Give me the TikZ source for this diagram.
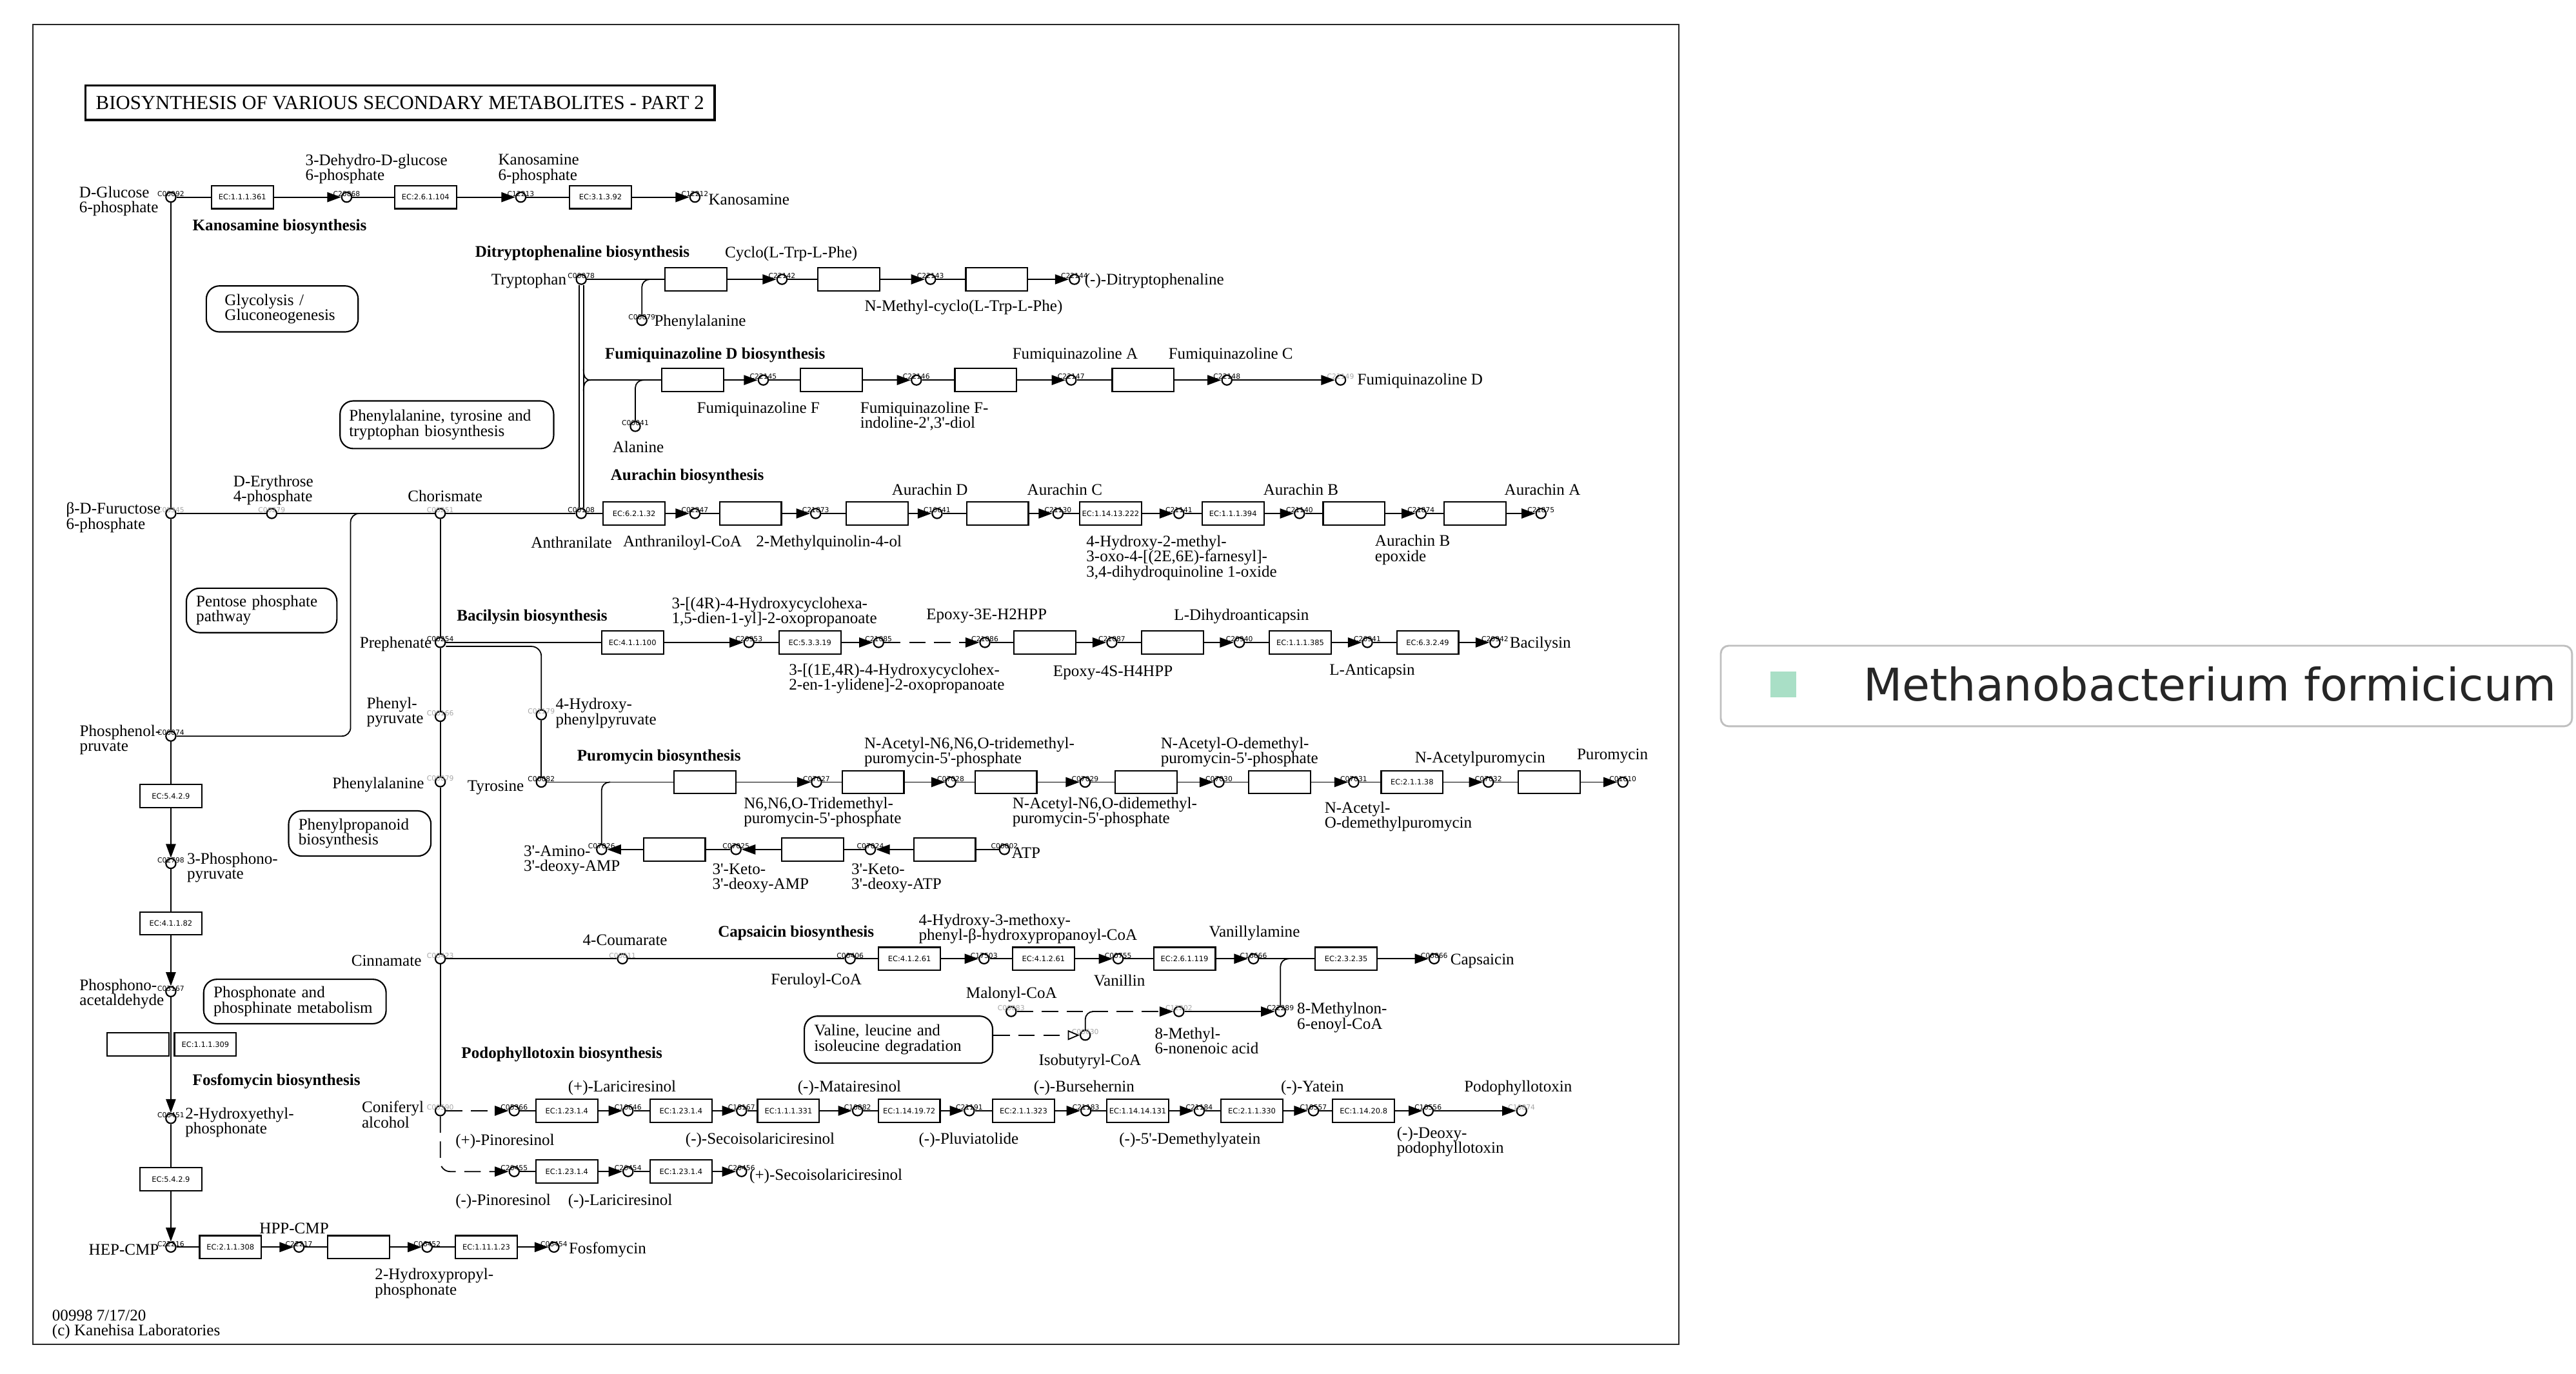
\documentclass[tikz,border=0pt]{standalone}
\usepackage{fontspec}
\setmainfont{Liberation Serif}
\setsansfont{DejaVu Sans}
\newfontfamily\legfam{DejaVu Sans}
\usetikzlibrary{arrows.meta}
\definecolor{mint}{HTML}{A9DFC6}
\newcommand{\lblfont}{\fontsize{7}{6.5}\selectfont}
\newcommand{\boldlbl}{\fontsize{7}{6.5}\selectfont\bfseries}
\newcommand{\titlefont}{\fontsize{8.6}{9}\selectfont}
\newcommand{\ecfont}{\sffamily\fontsize{3.2}{3.2}\selectfont}
\newcommand{\cidfont}{\sffamily\fontsize{3}{3}\selectfont}
\newcommand{\legfont}{\legfam\fontsize{19.5}{20}\selectfont}
\newcommand{\sq}{\textquotesingle}
\newcommand{\mkcpd}[4][cid]{\node[cpd] (#2) at (#3) {}; \node[#1] (#2id) at ([yshift=0.05cm]#2.center) {#4};}
\newcommand{\mkec}[3]{\node[ecbox] (#1) at (#2) {#3};}
\begin{document}
\begin{tikzpicture}[x=0.025cm,y=-0.025cm,
 cpd/.style={circle,draw,line width=0.6pt,inner sep=0pt,minimum size=0.15cm,fill=white},
 ecbox/.style={rectangle,draw,line width=0.6pt,minimum width=0.94cm,minimum height=0.35cm,inner sep=0pt,fill=white,font=\ecfont},
 cid/.style={font=\cidfont,inner sep=0pt,text=black},
 cidg/.style={cid,text=black!35},
 lbl/.style={font=\lblfont,inner sep=0pt,align=left},
 lblw/.style={lbl,anchor=west},
 lble/.style={lbl,anchor=east,align=right},
 ptitle/.style={font=\boldlbl,inner sep=0pt,anchor=west},
 mapbox/.style={draw,line width=0.6pt,rounded corners=0.2cm,font=\lblfont,align=left,inner ysep=0pt},
 ln/.style={line width=0.5pt},
 arr/.style={ln,-{Triangle[length=0.21cm,width=0.15cm]}},
 darr/.style={arr,dash pattern=on 0.25cm off 0.13cm},
 odarr/.style={ln,dash pattern=on 0.25cm off 0.13cm,-{Triangle[open,length=0.18cm,width=0.15cm]}},
]
\fill[white] (0,0) rectangle (1568,836);
\useasboundingbox (0,0) rectangle (1568,836);
\draw[line width=0.6pt,black!85] (20,15) rectangle (1022,818);
\node[draw,line width=1pt,minimum width=9.575cm,minimum height=0.525cm,inner sep=0pt,font=\titlefont] (title) at (243.5,62.5) {BIOSYNTHESIS OF VARIOUS SECONDARY METABOLITES - PART 2};

% ---------- map boxes
\node[mapbox,minimum height=0.7cm,text width=1.75cm,inner xsep=0.28cm] (Mgly) at (171.8,188) {Glycolysis /\\Gluconeogenesis};
\node[mapbox,minimum height=0.725cm,text width=2.97cm,inner xsep=0.14cm] (Mphe) at (272,258.5) {Phenylalanine, tyrosine and\\tryptophan biosynthesis};
\node[mapbox,minimum height=0.675cm,text width=1.99cm,inner xsep=0.15cm] (Mpen) at (159.25,371.5) {Pentose phosphate\\pathway};
\node[mapbox,minimum height=0.6875cm,text width=1.865cm,inner xsep=0.15cm] (Mppr) at (219,507.25) {Phenylpropanoid\\biosynthesis};
\node[mapbox,minimum height=0.675cm,text width=2.475cm,inner xsep=0.15cm] (Mpho) at (179.5,609.5) {Phosphonate and\\phosphinate metabolism};
\node[mapbox,minimum height=0.715cm,text width=2.565cm,inner xsep=0.15cm] (Mval) at (546.9,632.7) {Valine, leucine and\\isoleucine degradation};

% ---------- compounds
\mkcpd{g6p}{104,120}{C00092}
\mkcpd{dhg6p}{211,120}{C20868}
\mkcpd{k6p}{317,120}{C12213}
\mkcpd{kan}{423,120}{C12212}
\mkcpd[cidg]{f6p}{104,312.5}{C05345}
\mkcpd[cidg]{e4p}{165.4,312.5}{C00279}
\mkcpd[cidg]{chor}{268,312.5}{C00251}
\mkcpd{anth}{353.8,312.5}{C00108}
\mkcpd{pep}{104,448}{C00074}
\mkcpd{ppyr}{104,525.5}{C02798}
\mkcpd{pald}{104,603.5}{C03167}
\mkcpd{hep}{104,680.7}{C06451}
\mkcpd{hepcmp}{104,759}{C22216}
\mkcpd{hppcmp}{182,759}{C22217}
\mkcpd{hpp}{260,759}{C06452}
\mkcpd{fosf}{337.2,759}{C06454}
\mkcpd{preph}{268,391}{C00254}
\mkcpd[cidg]{phpyr}{268,436}{C00166}
\mkcpd[cidg]{phe}{268,475.8}{C00079}
\mkcpd[cidg]{cinn}{268,583.5}{C00423}
\mkcpd[cidg]{conif}{268,676}{C00590}
\mkcpd[cidg]{hpp4}{329.5,435}{C01179}
\mkcpd{tyr}{329.5,476}{C00082}
\mkcpd{trp}{353.8,170}{C00078}
\mkcpd{phe2}{390.7,195}{C00079}
\mkcpd{ala}{386.7,259.5}{C00041}
\mkcpd{c22142}{476,170}{C22142}
\mkcpd{c22143}{566.4,170}{C22143}
\mkcpd{c22144}{654,170}{C22144}
\mkcpd{c22145}{464.6,231.3}{C22145}
\mkcpd{c22146}{557.8,231.3}{C22146}
\mkcpd{c22147}{652,231.3}{C22147}
\mkcpd{c22148}{746.8,231.3}{C22148}
\mkcpd[cidg]{c22149}{816,231.3}{C22149}
\mkcpd{c02247}{423,312.5}{C02247}
\mkcpd{c21873}{496.5,312.5}{C21873}
\mkcpd{c10641}{570.4,312.5}{C10641}
\mkcpd{c21130}{644,312.5}{C21130}
\mkcpd{c21141}{717.6,312.5}{C21141}
\mkcpd{c21140}{791,312.5}{C21140}
\mkcpd{c21874}{865,312.5}{C21874}
\mkcpd{c21875}{938,312.5}{C21875}
\mkcpd{c20953}{455.9,391}{C20953}
\mkcpd{c21085}{534.8,391}{C21085}
\mkcpd{c21086}{599.5,391}{C21086}
\mkcpd{c21087}{676.8,391}{C21087}
\mkcpd{c20940}{754.4,391}{C20940}
\mkcpd{c20941}{832.3,391}{C20941}
\mkcpd{c20942}{910,391}{C20942}
\mkcpd{c07027}{497,476}{C07027}
\mkcpd{c07028}{578.7,476}{C07028}
\mkcpd{c07029}{660.5,476}{C07029}
\mkcpd{c07030}{742,476}{C07030}
\mkcpd{c07031}{824,476}{C07031}
\mkcpd{c07032}{906,476}{C07032}
\mkcpd{c01610}{987.8,476}{C01610}
\mkcpd{c07026}{366.2,517}{C07026}
\mkcpd{c07025}{448,517}{C07025}
\mkcpd{c07024}{529.8,517}{C07024}
\mkcpd{atp}{611.4,517}{C00002}
\mkcpd[cidg]{coum}{378.9,583.5}{C00811}
\mkcpd{fer}{517.5,583.5}{C00406}
\mkcpd{hmpc}{599,583.5}{C17503}
\mkcpd{van}{680.6,583.5}{C00755}
\mkcpd{vana}{763,583.5}{C16666}
\mkcpd{caps}{873,583.5}{C06866}
\mkcpd[cidg]{malo}{615.5,615.6}{C00083}
\mkcpd[cidg]{mna}{717.6,615.6}{C12202}
\mkcpd{c22289}{779.4,615.6}{C22289}
\mkcpd[cidg]{isob}{660.6,630}{C00630}
\mkcpd{c05366}{313,676}{C05366}
\mkcpd{c10646}{382.3,676}{C10646}
\mkcpd{c18167}{451.4,676}{C18167}
\mkcpd{c10882}{522,676}{C10882}
\mkcpd{c21191}{590,676}{C21191}
\mkcpd{c21183}{661,676}{C21183}
\mkcpd{c21184}{730,676}{C21184}
\mkcpd{c10557}{799.5,676}{C10557}
\mkcpd{c10556}{869.3,676}{C10556}
\mkcpd[cidg]{c10874}{926.2,676}{C10874}
\mkcpd{c20455}{313,713}{C20455}
\mkcpd{c20454}{382.3,713}{C20454}
\mkcpd{c20456}{451.4,713}{C20456}

% ---------- enzyme boxes
\mkec{ek1}{147.5,120}{EC:1.1.1.361}
\mkec{ek2}{259,120}{EC:2.6.1.104}
\mkec{ek3}{365.5,120}{EC:3.1.3.92}
\mkec{efa1}{104,484.5}{EC:5.4.2.9}
\mkec{efa2}{104,562}{EC:4.1.1.82}
\mkec{efa3}{84,635.6}{}
\mkec{efa4}{125,635.6}{EC:1.1.1.309}
\mkec{efa5}{104,717.6}{EC:5.4.2.9}
\mkec{efb1}{140.3,759}{EC:2.1.1.308}
\mkec{efb2}{218.3,759}{}
\mkec{efb3}{296,759}{EC:1.11.1.23}
\mkec{db1}{423.5,170}{}
\mkec{db2}{516.7,170}{}
\mkec{db3}{606.7,170}{}
\mkec{fb1}{421.7,231.3}{}
\mkec{fb2}{506,231.3}{}
\mkec{fb3}{600,231.3}{}
\mkec{fb4}{695.8,231.3}{}
\mkec{ea1}{386,312.5}{EC:6.2.1.32}
\mkec{ea2}{456.8,312.5}{}
\mkec{ea3}{534,312.5}{}
\mkec{ea4}{607.2,312.5}{}
\mkec{ea5}{676,312.5}{EC:1.14.13.222}
\mkec{ea6}{750.5,312.5}{EC:1.1.1.394}
\mkec{ea7}{824.2,312.5}{}
\mkec{ea8}{897.8,312.5}{}
\mkec{eb1}{385,391}{EC:4.1.1.100}
\mkec{eb2}{493,391}{EC:5.3.3.19}
\mkec{eb3}{636,391}{}
\mkec{eb4}{713.6,391}{}
\mkec{eb5}{791.5,391}{EC:1.1.1.385}
\mkec{eb6}{869,391}{EC:6.3.2.49}
\mkec{ep1}{429.2,476}{}
\mkec{ep2}{531.4,476}{}
\mkec{ep3}{612.3,476}{}
\mkec{ep4}{697.5,476}{}
\mkec{ep5}{779,476}{}
\mkec{ep6}{859.5,476}{EC:2.1.1.38}
\mkec{ep7}{943,476}{}
\mkec{er1}{410.5,517}{}
\mkec{er2}{494.6,517}{}
\mkec{er3}{575,517}{}
\mkec{ec1}{553.6,583.5}{EC:4.1.2.61}
\mkec{ec2}{635.2,583.5}{EC:4.1.2.61}
\mkec{ec3}{721,583.5}{EC:2.6.1.119}
\mkec{ec4}{819.4,583.5}{EC:2.3.2.35}
\mkec{eo1}{345,676}{EC:1.23.1.4}
\mkec{eo2}{414.5,676}{EC:1.23.1.4}
\mkec{eo3}{479.9,676}{EC:1.1.1.331}
\mkec{eo4}{553.4,676}{EC:1.14.19.72}
\mkec{eo5}{623,676}{EC:2.1.1.323}
\mkec{eo6}{692.5,676}{EC:1.14.14.131}
\mkec{eo7}{762,676}{EC:2.1.1.330}
\mkec{eo8}{830,676}{EC:1.14.20.8}
\mkec{el1}{345,713}{EC:1.23.1.4}
\mkec{el2}{414.5,713}{EC:1.23.1.4}

% ---------- junction coordinates
\coordinate (pepj) at (222,312.5);
\coordinate (fj) at (359.5,231.3);
\coordinate (j1) at (397,170);
\coordinate (j2) at (392,231.3);
\coordinate (j3) at (371.4,476);
\coordinate (j4) at (665.5,615.6);
\coordinate (j5) at (784.7,583.5);

% ---------- connectors
% kanosamine
\draw[ln] (g6p) -- (ek1); \draw[arr] (ek1) -- (dhg6p);
\draw[ln] (dhg6p) -- (ek2); \draw[arr] (ek2) -- (k6p);
\draw[ln] (k6p) -- (ek3); \draw[arr] (ek3) -- (kan);
% left column
\draw[ln] (g6p) -- (f6p); \draw[ln] (f6p) -- (pep);
\draw[ln] (pep) -- (efa1); \draw[arr] (efa1) -- (ppyr);
\draw[ln] (ppyr) -- (efa2); \draw[arr] (efa2) -- (pald);
\draw[arr] (pald) -- (hep);
\draw[ln] (hep) -- (efa5); \draw[arr] (efa5) -- (hepcmp);
\draw[ln] (hepcmp) -- (efb1); \draw[arr] (efb1) -- (hppcmp);
\draw[ln] (hppcmp) -- (efb2); \draw[arr] (efb2) -- (hpp);
\draw[ln] (hpp) -- (efb3); \draw[arr] (efb3) -- (fosf);
% main row
\draw[ln] (f6p) -- (e4p) -- (chor) -- (anth);
\draw[ln,rounded corners=0.13cm] (pep) -- (213.4,448) -- (213.4,312.5) -- (pepj);
% chorismate column
\draw[ln] (chor) -- (preph) -- (phpyr) -- (phe) -- (cinn) -- (conif);
\draw[ln] (preph) -- (eb1);
\draw[ln,rounded corners=0.15cm] ([yshift=-0.06cm]preph.east) -| (hpp4);
\draw[ln] (hpp4) -- (tyr);
% tryptophan double line
\draw[ln] ([xshift=-0.034cm]trp.south) -- ([xshift=-0.034cm]anth.north);
\draw[ln] ([xshift=0.034cm]trp.south) -- ([xshift=0.034cm]anth.north);
\draw[ln] (355.2,224.5) .. controls (355.2,229.5) and (356.5,231.3) .. (fj);
\draw[ln] (355.2,238.1) .. controls (355.2,233.1) and (356.5,231.3) .. (fj);
% ditryptophenaline
\draw[ln] (trp) -- (db1); \draw[arr] (db1) -- (c22142);
\draw[ln] (c22142) -- (db2); \draw[arr] (db2) -- (c22143);
\draw[ln] (c22143) -- (db3); \draw[arr] (db3) -- (c22144);
\draw[ln,rounded corners=0.12cm] (j1) -| (phe2);
% fumiquinazoline
\draw[ln] (fj) -- (fb1); \draw[arr] (fb1) -- (c22145);
\draw[ln] (c22145) -- (fb2); \draw[arr] (fb2) -- (c22146);
\draw[ln] (c22146) -- (fb3); \draw[arr] (fb3) -- (c22147);
\draw[ln] (c22147) -- (fb4); \draw[arr] (fb4) -- (c22148);
\draw[arr] (c22148) -- (c22149);
\draw[ln,rounded corners=0.12cm] (j2) -| (ala);
% aurachin
\draw[ln] (anth) -- (ea1); \draw[arr] (ea1) -- (c02247);
\draw[ln] (c02247) -- (ea2); \draw[arr] (ea2) -- (c21873);
\draw[ln] (c21873) -- (ea3); \draw[arr] (ea3) -- (c10641);
\draw[ln] (c10641) -- (ea4); \draw[arr] (ea4) -- (c21130);
\draw[ln] (c21130) -- (ea5); \draw[arr] (ea5) -- (c21141);
\draw[ln] (c21141) -- (ea6); \draw[arr] (ea6) -- (c21140);
\draw[ln] (c21140) -- (ea7); \draw[arr] (ea7) -- (c21874);
\draw[ln] (c21874) -- (ea8); \draw[arr] (ea8) -- (c21875);
% bacilysin
\draw[arr] (eb1) -- (c20953);
\draw[ln] (c20953) -- (eb2); \draw[arr] (eb2) -- (c21085);
\draw[darr] (c21085) -- (c21086);
\draw[ln] (c21086) -- (eb3); \draw[arr] (eb3) -- (c21087);
\draw[ln] (c21087) -- (eb4); \draw[arr] (eb4) -- (c20940);
\draw[ln] (c20940) -- (eb5); \draw[arr] (eb5) -- (c20941);
\draw[ln] (c20941) -- (eb6); \draw[arr] (eb6) -- (c20942);
% puromycin
\draw[ln] (tyr) -- (ep1); \draw[arr] (ep1) -- (c07027);
\draw[ln] (c07027) -- (ep2); \draw[arr] (ep2) -- (c07028);
\draw[ln] (c07028) -- (ep3); \draw[arr] (ep3) -- (c07029);
\draw[ln] (c07029) -- (ep4); \draw[arr] (ep4) -- (c07030);
\draw[ln] (c07030) -- (ep5); \draw[arr] (ep5) -- (c07031);
\draw[ln] (c07031) -- (ep6); \draw[arr] (ep6) -- (c07032);
\draw[ln] (c07032) -- (ep7); \draw[arr] (ep7) -- (c01610);
\draw[ln,rounded corners=0.12cm] (j3) -| (c07026);
\draw[ln] (atp) -- (er3); \draw[arr] (er3) -- (c07024);
\draw[ln] (c07024) -- (er2); \draw[arr] (er2) -- (c07025);
\draw[ln] (c07025) -- (er1); \draw[arr] (er1) -- (c07026);
% capsaicin
\draw[ln] (cinn) -- (coum) -- (fer) -- (ec1);
\draw[arr] (ec1) -- (hmpc);
\draw[ln] (hmpc) -- (ec2); \draw[arr] (ec2) -- (van);
\draw[ln] (van) -- (ec3); \draw[arr] (ec3) -- (vana);
\draw[ln] (vana) -- (ec4); \draw[arr] (ec4) -- (caps);
\draw[darr] (malo) -- (mna);
\draw[arr] (mna) -- (c22289);
\draw[ln,rounded corners=0.12cm] (j5) -| (c22289);
\draw[ln,rounded corners=0.12cm] (j4) -| (isob);
\draw[odarr] (Mval.east |- isob) -- (isob);
% podophyllotoxin
\draw[darr] (conif) -- (c05366);
\draw[darr,rounded corners=0.15cm] (conif) |- (c20455);
\draw[ln] (c05366) -- (eo1); \draw[arr] (eo1) -- (c10646);
\draw[ln] (c10646) -- (eo2); \draw[arr] (eo2) -- (c18167);
\draw[ln] (c18167) -- (eo3); \draw[arr] (eo3) -- (c10882);
\draw[ln] (c10882) -- (eo4); \draw[arr] (eo4) -- (c21191);
\draw[ln] (c21191) -- (eo5); \draw[arr] (eo5) -- (c21183);
\draw[ln] (c21183) -- (eo6); \draw[arr] (eo6) -- (c21184);
\draw[ln] (c21184) -- (eo7); \draw[arr] (eo7) -- (c10557);
\draw[ln] (c10557) -- (eo8); \draw[arr] (eo8) -- (c10556);
\draw[arr] (c10556) -- (c10874);
\draw[ln] (c20455) -- (el1); \draw[arr] (el1) -- (c20454);
\draw[ln] (c20454) -- (el2); \draw[arr] (el2) -- (c20456);

% ---------- labels
\node[ptitle] (Tkan) at (117,138) {Kanosamine biosynthesis};
\node[ptitle] (Tfos) at (117,658.3) {Fosfomycin biosynthesis};
\node[ptitle] (Tdit) at (289,154) {Ditryptophenaline biosynthesis};
\node[ptitle] (Tfum) at (368,216) {Fumiquinazoline D biosynthesis};
\node[ptitle] (Taur) at (371.4,289.8) {Aurachin biosynthesis};
\node[ptitle] (Tbac) at (277.8,375.5) {Bacilysin biosynthesis};
\node[ptitle] (Tpur) at (351,460.7) {Puromycin biosynthesis};
\node[ptitle] (Tcap) at (436.8,568) {Capsaicin biosynthesis};
\node[ptitle] (Tpod) at (280.6,641.5) {Podophyllotoxin biosynthesis};

\node[lblw] (Lg6p) at (48,122.5) {D-Glucose\\6-phosphate};
\node[lblw] (Ldhg) at (185.7,102.8) {3-Dehydro-D-glucose\\6-phosphate};
\node[lblw] (Lk6p) at (303,102.8) {Kanosamine\\6-phosphate};
\node[lblw] (Lkan) at (431,121.5) {Kanosamine};
\node[lblw] (Lf6p) at (40,315) {β-D-Fuructose\\6-phosphate};
\node[lblw] (Le4p) at (141.8,298.4) {D-Erythrose\\4-phosphate};
\node[lblw] (Lchor) at (248,302) {Chorismate};
\node[lblw] (Lpep) at (48.3,450.2) {Phosphenol-\\pruvate};
\node[lblw] (Lppyr) at (113.6,528) {3-Phosphono-\\pyruvate};
\node[lblw] (Lpald) at (48.2,605) {Phosphono-\\acetaldehyde};
\node[lblw] (Lhep) at (112.5,683) {2-Hydroxyethyl-\\phosphonate};
\node[lble] (Lhepcmp) at (97,760.4) {HEP-CMP};
\node[lblw] (Lhppcmp) at (157.7,747.5) {HPP-CMP};
\node[lblw] (Lhpp) at (228,781) {2-Hydroxypropyl-\\phosphonate};
\node[lblw] (Lfosf) at (346,760.5) {Fosfomycin};
\node[lblw] (Lcopy) at (31.5,806) {00998 7/17/20\\(c) Kanehisa Laboratories};

\node[lble] (Ltrp) at (345,171) {Tryptophan};
\node[lblw] (Lphe2) at (398,196) {Phenylalanine};
\node[lblw] (Lcyclo) at (441,154.5) {Cyclo(L-Trp-L-Phe)};
\node[lblw] (Lnmc) at (526,187) {N-Methyl-cyclo(L-Trp-L-Phe)};
\node[lblw] (Ldit) at (660,171) {(-)-Ditryptophenaline};
\node[lblw] (Lala) at (372.6,272) {Alanine};
\node[lblw] (LfF) at (424,249) {Fumiquinazoline F};
\node[lblw] (LfFd) at (523.4,253.3) {Fumiquinazoline F-\\indoline-2\sq,3\sq-diol};
\node[lblw] (LfA) at (616,216) {Fumiquinazoline A};
\node[lblw] (LfC) at (711,216) {Fumiquinazoline C};
\node[lblw] (LfD) at (826,232) {Fumiquinazoline D};
\node[lblw] (Lanth) at (323,330) {Anthranilate};
\node[lblw] (Lacoa) at (379,330.4) {Anthraniloyl-CoA};
\node[lblw] (Lmq) at (460,330.4) {2-Methylquinolin-4-ol};
\node[lblw] (LaD) at (542.6,298) {Aurachin D};
\node[lblw] (LaC) at (625,298) {Aurachin C};
\node[lblw] (Lhmo) at (661,339.5) {4-Hydroxy-2-methyl-\\3-oxo-4-[(2E,6E)-farnesyl]-\\3,4-dihydroquinoline 1-oxide};
\node[lblw] (LaB) at (768.7,298) {Aurachin B};
\node[lblw] (LaBe) at (836.7,334.7) {Aurachin B\\epoxide};
\node[lblw] (LaA) at (915.5,298) {Aurachin A};

\node[lble] (Lpreph) at (263,392) {Prephenate};
\node[lblw] (Lphpyr) at (223,433.3) {Phenyl-\\pyruvate};
\node[lblw] (Lhpp4) at (338,434) {4-Hydroxy-\\phenylpyruvate};
\node[lble] (Lphe) at (258.4,477.4) {Phenylalanine};
\node[lblw] (Ltyr) at (284.3,479.5) {Tyrosine};
\node[lble] (Lcinn) at (256.8,584.5) {Cinnamate};
\node[lblw] (Lhc1) at (408.6,372.5) {3-[(4R)-4-Hydroxycyclohexa-\\1,5-dien-1-yl]-2-oxopropanoate};
\node[lblw] (Lep3) at (563.6,375) {Epoxy-3E-H2HPP};
\node[lblw] (Lhc2) at (480,413) {3-[(1E,4R)-4-Hydroxycyclohex-\\2-en-1-ylidene]-2-oxopropanoate};
\node[lblw] (Lep4) at (640.8,409.3) {Epoxy-4S-H4HPP};
\node[lblw] (Lldh) at (714.4,375.3) {L-Dihydroanticapsin};
\node[lblw] (Llan) at (809,408.6) {L-Anticapsin};
\node[lblw] (Lbac) at (918.7,392) {Bacilysin};

\node[lblw] (Lp1) at (452.5,494.3) {N6,N6,O-Tridemethyl-\\puromycin-5\sq-phosphate};
\node[lblw] (Lp2) at (525.8,457.8) {N-Acetyl-N6,N6,O-tridemethyl-\\puromycin-5\sq-phosphate};
\node[lblw] (Lp3) at (616,494.3) {N-Acetyl-N6,O-didemethyl-\\puromycin-5\sq-phosphate};
\node[lblw] (Lp4) at (706.3,457.8) {N-Acetyl-O-demethyl-\\puromycin-5\sq-phosphate};
\node[lblw] (Lp5) at (806,497) {N-Acetyl-\\O-demethylpuromycin};
\node[lblw] (Lp6) at (861,462) {N-Acetylpuromycin};
\node[lblw] (Lp7) at (959.6,460) {Puromycin};
\node[lblw] (Lr1) at (318.5,523.4) {3\sq-Amino-\\3\sq-deoxy-AMP};
\node[lblw] (Lr2) at (433.4,534.6) {3\sq-Keto-\\3\sq-deoxy-AMP};
\node[lblw] (Lr3) at (518,534.6) {3\sq-Keto-\\3\sq-deoxy-ATP};
\node[lblw] (Latp) at (615.5,519) {ATP};

\node[lblw] (Lcoum) at (354.5,572) {4-Coumarate};
\node[lblw] (Lfer) at (469,596.8) {Feruloyl-CoA};
\node[lblw] (Lhmpc) at (559,565.4) {4-Hydroxy-3-methoxy-\\phenyl-β-hydroxypropanoyl-CoA};
\node[lblw] (Lvan) at (665.5,596.8) {Vanillin};
\node[lblw] (Lvana) at (735.7,568) {Vanillylamine};
\node[lblw] (Lcaps) at (882.6,585) {Capsaicin};
\node[lblw] (Lmalo) at (587.8,605.3) {Malonyl-CoA};
\node[lblw] (Lmna) at (702.7,633.4) {8-Methyl-\\6-nonenoic acid};
\node[lblw] (Lmnc) at (789.3,619.3) {8-Methylnon-\\6-enoyl-CoA};
\node[lblw] (Lisob) at (632,645.9) {Isobutyryl-CoA};

\node[lblw] (Lconif) at (220,678.3) {Coniferyl\\alcohol};
\node[lblw] (Lo1) at (345.5,662) {(+)-Lariciresinol};
\node[lblw] (Lo2) at (485.3,662) {(-)-Matairesinol};
\node[lblw] (Lo3) at (629,662) {(-)-Bursehernin};
\node[lblw] (Lo4) at (779.4,662) {(-)-Yatein};
\node[lblw] (Lo5) at (891,662) {Podophyllotoxin};
\node[lblw] (Lo6) at (277,694.5) {(+)-Pinoresinol};
\node[lblw] (Lo7) at (417,694) {(-)-Secoisolariciresinol};
\node[lblw] (Lo8) at (559,694) {(-)-Pluviatolide};
\node[lblw] (Lo9) at (681,694) {(-)-5\sq-Demethylyatein};
\node[lblw] (Lo10) at (850,695) {(-)-Deoxy-\\podophyllotoxin};
\node[lblw] (Lo11) at (277,731) {(-)-Pinoresinol};
\node[lblw] (Lo12) at (345.5,731) {(-)-Lariciresinol};
\node[lblw] (Lo13) at (456,716) {(+)-Secoisolariciresinol};

% ---------- legend
\node[draw=black!25,line width=0.8pt,rounded corners=0.12cm,minimum width=12.95cm,minimum height=1.225cm,inner sep=0pt] (legend) at (1306.5,417.5) {};
\node[fill=mint,minimum size=0.4cm,inner sep=0pt] (legsq) at (1085.5,416.5) {};
\node[anchor=west,font=\legfont,text=black!85,inner sep=0pt] (legtxt) at (1134,416.5) {Methanobacterium formicicum};
\end{tikzpicture}
\end{document}
